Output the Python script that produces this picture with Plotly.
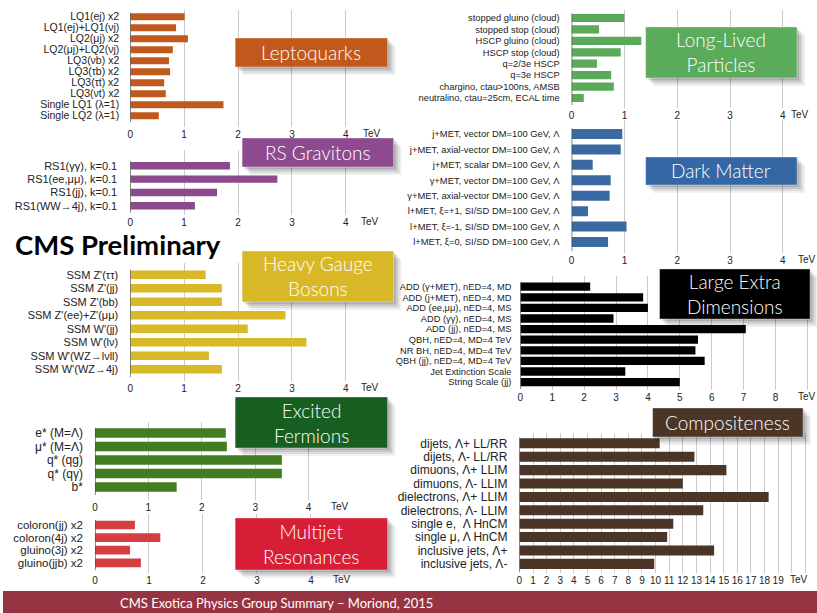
import plotly.graph_objects as go

W, H = 817, 613

# ---------------- data ----------------
lq_labels = ["LQ1(ej) x2", "LQ1(ej)+LQ1(νj)", "LQ2(μj) x2", "LQ2(μj)+LQ2(νj)", "LQ3(νb) x2",
             "LQ3(τb) x2", "LQ3(τt) x2", "LQ3(νt) x2", "Single LQ1 (λ=1)", "Single LQ2 (λ=1)"]
lq_values = [1.01, 0.85, 1.07, 0.79, 0.72, 0.74, 0.63, 0.66, 1.73, 0.53]

rs_labels = ["RS1(γγ), k=0.1", "RS1(ee,μμ), k=0.1", "RS1(jj), k=0.1", "RS1(WW→4j), k=0.1"]
rs_values = [1.85, 2.73, 1.61, 1.20]

hgb_labels = ["SSM Z'(ττ)", "SSM Z'(jj)", "SSM Z'(bb)", "SSM Z'(ee)+Z'(μμ)", "SSM W'(jj)",
              "SSM W'(lν)", "SSM W'(WZ→lνll)", "SSM W'(WZ→4j)"]
hgb_values = [1.40, 1.70, 1.70, 2.88, 2.18, 3.27, 1.46, 1.70]

ef_labels = ["e* (M=Λ)", "μ* (M=Λ)", "q* (qg)", "q* (qγ)", "b*"]
ef_values = [2.45, 2.47, 3.50, 3.50, 1.53]

mj_labels = ["coloron(jj) x2", "coloron(4j) x2", "gluino(3j) x2", "gluino(jjb) x2"]
mj_values = [0.74, 1.21, 0.65, 0.85]

ll_labels = ["stopped gluino (cloud)", "stopped stop (cloud)", "HSCP gluino (cloud)", "HSCP stop (cloud)",
             "q=2/3e HSCP", "q=3e HSCP", "chargino, ctau>100ns, AMSB", "neutralino, ctau=25cm, ECAL time"]
ll_values = [1.00, 0.52, 1.32, 0.93, 0.48, 0.75, 0.80, 0.23]

dm_labels = ["j+MET, vector DM=100 GeV, Λ", "j+MET, axial-vector DM=100 GeV, Λ",
             "j+MET, scalar DM=100 GeV, Λ", "γ+MET, vector DM=100 GeV, Λ",
             "γ+MET, axial-vector DM=100 GeV, Λ", "l+MET, ξ=+1, SI/SD DM=100 GeV, Λ",
             "l+MET, ξ=-1, SI/SD DM=100 GeV, Λ", "l+MET, ξ=0, SI/SD DM=100 GeV, Λ"]
dm_values = [0.96, 0.93, 0.40, 0.74, 0.72, 0.31, 1.04, 0.69]

led_labels = ["ADD (γ+MET), nED=4, MD", "ADD (j+MET), nED=4, MD", "ADD (ee,μμ), nED=4, MS",
              "ADD (γγ), nED=4, MS", "ADD (jj), nED=4, MS", "QBH, nED=4, MD=4 TeV",
              "NR BH, nED=4, MD=4 TeV", "QBH (jj), nED=4, MD=4 TeV", "Jet Extinction Scale",
              "String Scale (jj)"]
led_values = [2.19, 3.85, 4.00, 2.92, 7.07, 5.57, 5.49, 5.78, 3.29, 5.00]

comp_labels = ["dijets, Λ+ LL/RR", "dijets, Λ- LL/RR", "dimuons, Λ+ LLIM", "dimuons, Λ- LLIM",
               "dielectrons, Λ+ LLIM", "dielectrons, Λ- LLIM", "single e,  Λ HnCM",
               "single μ, Λ HnCM", "inclusive jets, Λ+", "inclusive jets, Λ-"]
comp_values = [10.3, 12.85, 15.2, 12.0, 18.3, 13.5, 11.3, 10.85, 14.3, 9.9]

tick_small = [0, 1, 2, 3, 4]
tick_led = list(range(0, 9))
tick_comp = list(range(0, 20))

# ---------------- panel layout (pixels) ----------------
panels = [
    dict(lab=lq_labels, val=lq_values, col="#C0591C", x0=127.7, s=54.1, xmax=4.7, ticks=tick_small, ngrid=4,
         tev=4.48, Dt=10, Db=127, c0=16.7, p=11.0, w=0.64, fs=10.5, so=10),
    dict(lab=rs_labels, val=rs_values, col="#8A4A8B", x0=127.7, s=54.1, xmax=4.7, ticks=tick_small, ngrid=4,
         tev=4.45, Dt=150, Db=215, c0=165.8, p=13.33, w=0.56, fs=11, so=12),
    dict(lab=hgb_labels, val=hgb_values, col="#D9B928", x0=127.7, s=54.1, xmax=4.7, ticks=tick_small, ngrid=4,
         tev=4.45, Dt=263, Db=381, c0=274.8, p=13.5, w=0.63, fs=11, so=11),
    dict(lab=ef_labels, val=ef_values, col="#437D22", x0=92.3, s=53.6, xmax=4.8, ticks=tick_small, ngrid=4,
         tev=4.58, Dt=422, Db=500, c0=433, p=13.5, w=0.69, fs=12, so=11),
    dict(lab=mj_labels, val=mj_values, col="#D63E41", x0=92.3, s=54.2, xmax=4.8, ticks=tick_small, ngrid=4,
         tev=4.58, Dt=514, Db=573, c0=525, p=12.6, w=0.69, fs=11.5, so=11),
    dict(lab=ll_labels, val=ll_values, col="#5BAA5A", x0=570.7, s=53.0, xmax=4.5, ticks=tick_small, ngrid=4,
         tev=4.33, Dt=10, Db=108, c0=18, p=11.43, w=0.72, fs=9.3, so=11),
    dict(lab=dm_labels, val=dm_values, col="#3A69A3", x0=570.7, s=53.0, xmax=4.5, ticks=tick_small, ngrid=4,
         tev=4.46, Dt=120, Db=253, c0=134, p=15.43, w=0.65, fs=9.4, so=11),
    dict(lab=led_labels, val=led_values, col="#000000", x0=519.3, s=32.0, xmax=9.25, ticks=tick_led, ngrid=9,
         tev=9.0, Dt=276, Db=390, c0=286.7, p=10.6, w=0.78, fs=9.3, so=8),
    dict(lab=comp_labels, val=comp_values, col="#4A3526", x0=518.3, s=13.67, xmax=21.4, ticks=tick_comp, ngrid=21,
         tev=20.5, Dt=433, Db=573, c0=443.3, p=13.4, w=0.75, fs=12, so=11),
]

boxes = [
    ("Leptoquarks", 233, 38, 386, 67, "#C0591B"),
    ("RS Gravitons", 240, 138, 392, 167, "#8E4A8E"),
    ("Heavy Gauge<br>Bosons", 240, 251, 392, 302, "#D9B828"),
    ("Excited<br>Fermions", 233, 397, 386, 448, "#175E21"),
    ("Multijet<br>Resonances", 233, 518, 386, 570, "#D81E36"),
    ("Long-Lived<br>Particles", 645, 27, 797, 78, "#5AAB5A"),
    ("Dark Matter", 645, 157, 797, 185, "#3567A4"),
    ("Large Extra<br>Dimensions", 659, 269, 810, 319, "#000000"),
    ("Compositeness", 652, 408, 803, 437, "#4A3526"),
]

LABEL_FONT = "Liberation Sans, Arial, sans-serif"
TITLE_FONT = "Lato, Open Sans, sans-serif"

fig = go.Figure()
layout = dict(width=W, height=H, margin=dict(l=0, r=0, t=0, b=0),
              paper_bgcolor="white", plot_bgcolor="rgba(0,0,0,0)", showlegend=False,
              barmode="overlay")
shapes = []
annotations = []

for i, pn in enumerate(panels, start=1):
    sx = "" if i == 1 else str(i)
    n = len(pn["lab"])
    ypos = list(range(n))
    fig.add_trace(go.Bar(x=pn["val"], y=ypos, orientation="h", width=pn["w"],
                         marker=dict(color=pn["col"], line=dict(width=0)),
                         xaxis="x" + sx, yaxis="y" + sx, hoverinfo="skip"))
    xd = [pn["x0"] / W, (pn["x0"] + pn["xmax"] * pn["s"]) / W]
    yd = [1 - pn["Db"] / H, 1 - pn["Dt"] / H]
    tv = list(range(0, pn["ngrid"] + 1))
    tt = [str(v) if v in pn["ticks"] else "" for v in tv]
    layout["xaxis" + sx] = dict(domain=xd, range=[0, pn["xmax"]], anchor="y" + sx,
                                tickmode="array", tickvals=tv, ticktext=tt,
                                showgrid=True, gridcolor="#cacaca", gridwidth=1,
                                zeroline=True, zerolinecolor="rgba(0,0,0,0)", zerolinewidth=0,
                                showline=False, ticks="",
                                tickfont=dict(family=LABEL_FONT, size=10, color="#222"),
                                fixedrange=True)
    layout["yaxis" + sx] = dict(domain=yd,
                                range=[(pn["Db"] - pn["c0"]) / pn["p"], (pn["Dt"] - pn["c0"]) / pn["p"]],
                                anchor="x" + sx, tickmode="array", tickvals=ypos, ticktext=pn["lab"],
                                showgrid=False, zeroline=False, showline=False, ticks="",
                                ticklabelstandoff=pn["so"],
                                tickfont=dict(family=LABEL_FONT, size=pn["fs"], color="#222"),
                                fixedrange=True)
    # y axis line at x = 0
    shapes.append(dict(type="line", xref="x" + sx, yref="y" + sx, x0=0, x1=0,
                       y0=-0.5 * pn["w"] - 0.05, y1=n - 1 + 0.5 * pn["w"] + 0.25,
                       line=dict(color="#4a4a4a", width=1.3), layer="above"))
    annotations.append(dict(text="TeV", xref="x" + sx, yref="y" + sx + " domain", x=pn["tev"], y=0,
                            yanchor="top", xanchor="center", showarrow=False, yshift=1,
                            font=dict(family=LABEL_FONT, size=10, color="#222")))

# title boxes with soft shadow
for text, bx0, by0, bx1, by1, col in boxes:
    for k, op in [(8, 0.06), (6, 0.08), (4, 0.10), (2, 0.12)]:
        shapes.append(dict(type="rect", xref="paper", yref="paper",
                           x0=(bx0 + k) / W, x1=(bx1 + k) / W, y0=1 - (by1 + k) / H, y1=1 - (by0 + k) / H,
                           fillcolor=f"rgba(0,0,0,{op})", line=dict(width=0), layer="above"))
    shapes.append(dict(type="rect", xref="paper", yref="paper",
                       x0=bx0 / W, x1=bx1 / W, y0=1 - by1 / H, y1=1 - by0 / H,
                       fillcolor=col, line=dict(color="rgba(255,255,255,0.35)", width=1), layer="above"))
    annotations.append(dict(text=text, xref="paper", yref="paper",
                            x=(bx0 + bx1) / 2 / W, y=1 - (by0 + by1) / 2 / H,
                            xanchor="center", yanchor="middle", showarrow=False,
                            font=dict(family=TITLE_FONT, size=19, color="white", weight=300)))

# CMS Preliminary
annotations.append(dict(text="<b>CMS Preliminary</b>", xref="paper", yref="paper",
                        x=10 / W, y=1 - 244 / H, xanchor="left", yanchor="middle", showarrow=False,
                        font=dict(family=TITLE_FONT, size=27.5, color="black")))

# footer band
shapes.append(dict(type="rect", xref="paper", yref="paper", x0=0, x1=1, y0=0, y1=1 - 591 / H,
                   fillcolor="#963441", line=dict(width=0), layer="above"))
annotations.append(dict(text="CMS Exotica Physics Group Summary – Moriond, 2015", xref="paper", yref="paper",
                        x=115 / W, y=1 - 603 / H, xanchor="left", yanchor="middle", showarrow=False,
                        font=dict(family=TITLE_FONT, size=13, color="white")))

layout["shapes"] = shapes
layout["annotations"] = annotations
fig.update_layout(**layout)

fig.write_html("out.html", config={"displayModeBar": False},
               post_script="document.body.style.margin='0';")
